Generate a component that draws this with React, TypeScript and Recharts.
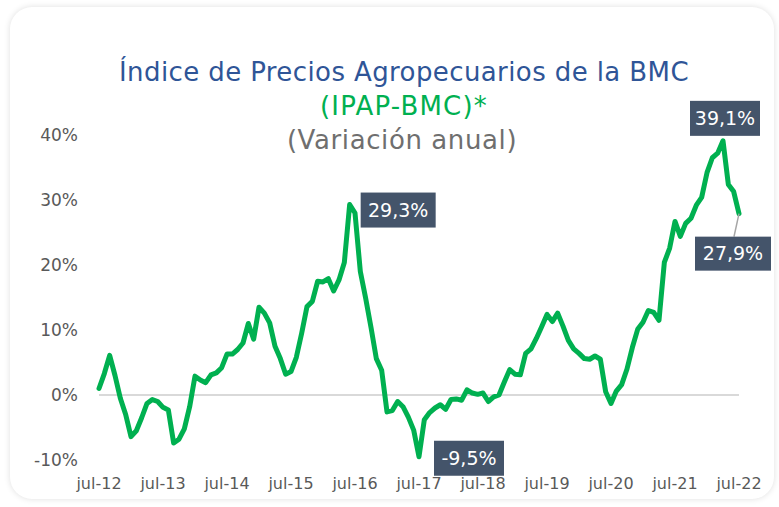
import React from 'react';
import { LineChart, Line, XAxis, YAxis, ReferenceLine, LabelList } from 'recharts';

// monthly annual variation (%), jul-12 .. jul-22
const values = [
  1.0, 3.3, 6.1, 3.0, -0.5, -3.0, -6.4, -5.5, -3.5, -1.3, -0.7, -1.0,
  -1.9, -2.3, -7.4, -6.8, -5.2, -1.8, 2.9, 2.3, 1.9, 3.1, 3.4, 4.2,
  6.3, 6.3, 7.0, 8.0, 11.0, 8.6, 13.5, 12.6, 11.1, 7.5, 5.6, 3.2,
  3.6, 5.8, 9.5, 13.6, 14.4, 17.5, 17.4, 17.9, 16.0, 17.7, 20.4, 29.3,
  28.0, 19.0, 14.9, 10.4, 5.6, 3.8, -2.6, -2.4, -1.0, -1.8, -3.4, -5.4,
  -9.5, -3.8, -2.7, -2.0, -1.5, -2.2, -0.7, -0.6, -0.8, 0.8, 0.3, 0.1,
  0.3, -1.0, -0.3, 0.0, 2.0, 3.9, 3.2, 3.1, 6.4, 7.1, 8.7, 10.5,
  12.4, 11.3, 12.6, 10.6, 8.4, 7.1, 6.4, 5.6, 5.5, 6.0, 5.5, 0.5,
  -1.3, 0.6, 1.6, 4.0, 7.3, 10.1, 11.2, 13.0, 12.7, 11.5, 20.4, 22.6,
  26.7, 24.4, 26.4, 27.2, 29.2, 30.4, 34.2, 36.5, 37.2, 39.1, 32.4, 31.3,
  27.9,
];

const tickLabels = ['jul-12', 'jul-13', 'jul-14', 'jul-15', 'jul-16', 'jul-17', 'jul-18', 'jul-19', 'jul-20', 'jul-21', 'jul-22'];
const xTicks = tickLabels.map((_, i) => i * 12);
const yTicks = [-10, 0, 10, 20, 30, 40];

// points that carry a value callout
const callouts = [47, 60, 117, 120];
const calloutText = ['29,3%', '-9,5%', '39,1%', '27,9%'];

const data = values.map((v, i) => ({ i, v }));

const FONT = '"DejaVu Sans", sans-serif';
const GRAY = '#595959';

// box placement relative to the point: [dx, dy, width, height]
const boxPlace: Record<number, [number, number, number, number]> = {
  47: [11, -12, 75, 35],
  60: [15, -16, 70, 35],
  117: [-33, -40, 70, 35],
  120: [-44, 23, 76, 34],
};

function Callout(props: any) {
  const { x, y, index } = props;
  const k = callouts.indexOf(index);
  if (k < 0) return null;
  const [dx, dy, w, h] = boxPlace[index];
  const bx = x + dx;
  const by = y + dy;
  return (
    <g>
      {index === 120 && <line x1={x} y1={y} x2={x - 5} y2={by} stroke="#A6A6A6" strokeWidth={1.5} />}
      <rect x={bx} y={by} width={w} height={h} fill="#44546A" />
      <text
        x={bx + w / 2}
        y={by + h / 2 + 1}
        textAnchor="middle"
        dominantBaseline="middle"
        fill="#fff"
        fontSize={19}
        fontFamily={FONT}
      >
        {calloutText[k]}
      </text>
    </g>
  );
}

export default function App() {
  return (
    <div style={{ position: 'absolute', left: 0, top: 0, width: 779, height: 507, background: '#fff', overflow: 'hidden' }}>
      <div
        style={{
          position: 'absolute', left: 10, top: 7, width: 764, height: 492,
          borderRadius: 22, boxShadow: '0 0 6px rgba(0,0,0,0.13)', background: '#fff',
        }}
      />
      <div style={{ position: 'absolute', left: 0, top: 0, width: 779, textAlign: 'center', fontFamily: FONT }}>
        <div style={{ position: 'absolute', left: 0, width: 808, top: 57, fontSize: 26, color: '#2F5597', letterSpacing: 0.4 }}>
          Índice de Precios Agropecuarios de la BMC
        </div>
        <div style={{ position: 'absolute', left: 0, width: 808, top: 91, fontSize: 26, color: '#00B050', letterSpacing: 1.2 }}>
          (IPAP-BMC)*
        </div>
        <div style={{ position: 'absolute', left: 0, width: 804, top: 125, fontSize: 26, color: '#6F6F6F', letterSpacing: 0.6 }}>
          (Variación anual)
        </div>
      </div>
      <div style={{ position: 'absolute', left: 0, top: 0 }}>
        <LineChart width={779} height={507} data={data} margin={{ top: 135, right: 40, bottom: 17, left: 39 }}>
          <XAxis
            dataKey="i"
            type="number"
            domain={[0, 120]}
            ticks={xTicks}
            tickFormatter={(v: number) => tickLabels[v / 12]}
            axisLine={false}
            tickLine={false}
            tickMargin={12}
            height={30}
            tick={{ fill: GRAY, fontSize: 16, fontFamily: FONT }}
            interval={0}
          />
          <YAxis
            domain={[-10, 40]}
            ticks={yTicks}
            tickFormatter={(v: number) => `${v}%`}
            axisLine={false}
            tickLine={false}
            tickMargin={15}
            width={60}
            tick={{ fill: GRAY, fontSize: 17, fontFamily: FONT }}
          />
          <ReferenceLine y={0} stroke="#D9D9D9" strokeWidth={2} />
          <Line
            type="linear"
            dataKey="v"
            stroke="#00B050"
            strokeWidth={5}
            dot={false}
            strokeLinejoin="round"
            strokeLinecap="round"
            isAnimationActive={false}
          >
            <LabelList dataKey="v" content={Callout} />
          </Line>
        </LineChart>
      </div>
    </div>
  );
}
